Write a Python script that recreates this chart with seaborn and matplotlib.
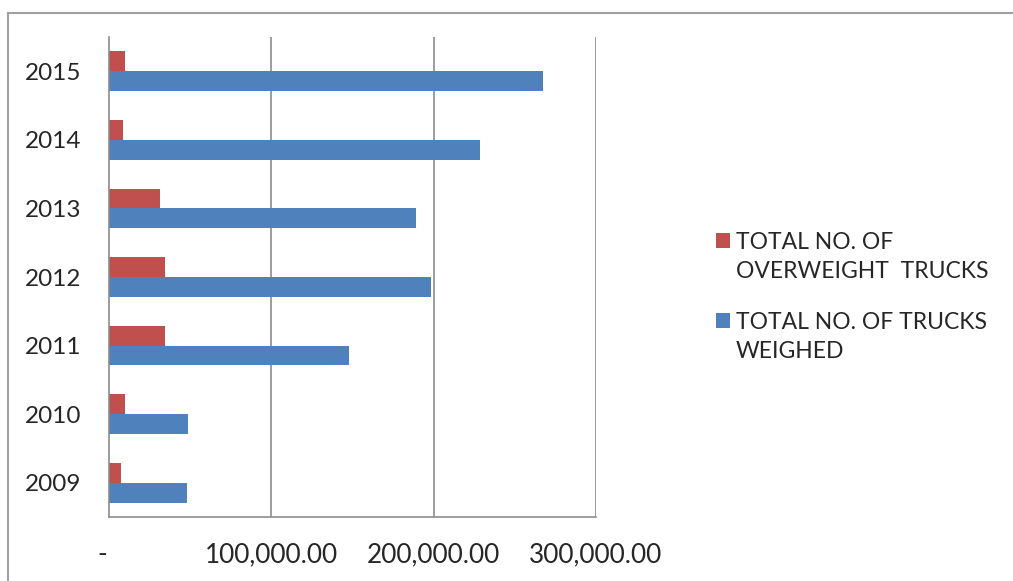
import matplotlib
matplotlib.use("Agg")
import matplotlib.pyplot as plt
import matplotlib.transforms as mtransforms
import seaborn as sns
import pandas as pd
import numpy as np
from matplotlib.patches import Rectangle
from matplotlib.ticker import FixedLocator
from matplotlib.legend_handler import HandlerPatch

years = ["2015", "2014", "2013", "2012", "2011", "2010", "2009"]
overweight = [9900, 8600, 31400, 34500, 34500, 10000, 7400]
weighed = [267400, 228600, 189000, 198400, 147900, 48700, 47800]
series = ["TOTAL NO. OF\nOVERWEIGHT  TRUCKS", "TOTAL NO. OF TRUCKS\nWEIGHED"]
colors = ["#C0504D", "#4F81BD"]
xticks = [0, 100000, 200000, 300000]
xticklabels = ["-", "100,000.00", "200,000.00", "300,000.00"]

df = pd.DataFrame({
    "year": years * 2,
    "value": overweight + weighed,
    "series": [series[0]] * len(years) + [series[1]] * len(years),
})

sns.set_style("white")
plt.rcParams["font.family"] = ["Lato", "DejaVu Sans"]

fig = plt.figure(figsize=(10.13, 5.81), dpi=100)
W, H = 1013, 581
ax = fig.add_axes([109 / W, 1 - 517 / H, (596 - 109) / W, (517 - 37) / H])

sns.barplot(data=df, y="year", x="value", hue="series", order=years,
            hue_order=series, palette=colors, orient="h", width=0.58,
            ax=ax, saturation=1, legend=True, linewidth=0, edgecolor="none")

ax.set_xlim(0, 300000)
ax.set_ylim(len(years) - 0.5, -0.5)
ax.set_xlabel("")
ax.set_ylabel("")

gcol = "#8c8c8c"
ax.xaxis.set_major_locator(FixedLocator(xticks))
ax.set_xticklabels(xticklabels, fontsize=18.8)
for x in xticks[1:]:
    ax.axvline(x, color=gcol, lw=1.2, zorder=0)
ax.tick_params(axis="x", length=6, width=1.2, color=gcol, pad=12, direction="out")
# Excel-style accounting "-" sits a little left of zero
lbl0 = ax.get_xticklabels()[0]
lbl0.set_transform(lbl0.get_transform() +
                   mtransforms.ScaledTranslation(-7 / 100, 0, fig.dpi_scale_trans))

ax.set_yticks(range(len(years)))
ax.set_yticklabels(years, fontsize=17.5)
ax.tick_params(axis="y", which="major", length=0, pad=20)
ax.yaxis.set_minor_locator(FixedLocator(np.arange(-0.5, len(years), 1.0)))
ax.tick_params(axis="y", which="minor", length=6, width=1.2, color=gcol, direction="out")

for s in ["top", "right"]:
    ax.spines[s].set_visible(False)
for s in ["left", "bottom"]:
    ax.spines[s].set_color(gcol)
    ax.spines[s].set_linewidth(1.2)


class TopSquare(HandlerPatch):
    def __init__(self, shift, **kw):
        super().__init__(**kw)
        self.shift = shift

    def create_artists(self, legend, orig_handle, xdescent, ydescent, width,
                       height, fontsize, trans):
        p = Rectangle((-xdescent, -ydescent + self.shift), width, height,
                      facecolor=orig_handle.get_facecolor(), edgecolor="none",
                      transform=trans)
        return [p]


handles, labels = ax.get_legend_handles_labels()
ax.legend_.remove()
lfs = 16.5
leg = fig.legend(handles, labels, loc="upper left",
                 bbox_to_anchor=(695 / W, 1 - 211 / H),
                 frameon=False, fontsize=lfs, handlelength=0.64, handleheight=0.64,
                 handletextpad=0.25, labelspacing=1.3,
                 handler_map={h: TopSquare(shift=0.74 * lfs) for h in handles})
for t in leg.get_texts():
    t.set_linespacing(1.5)

fig.patches.append(Rectangle((8 / W, -0.1), 1.2, 1 - 13 / H + 0.1, transform=fig.transFigure,
                             fill=False, edgecolor="#a0a0a0", lw=1.5))

fig.savefig("out.png", dpi=100)
